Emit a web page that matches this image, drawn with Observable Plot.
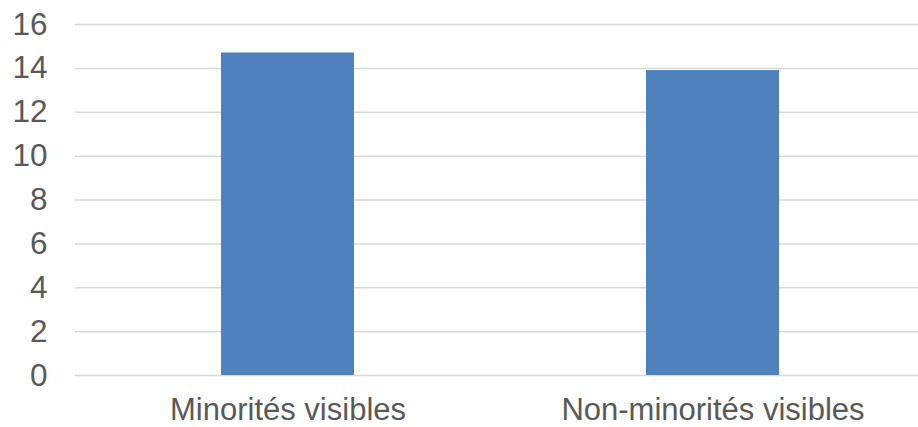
<!DOCTYPE html>
<html>
<head>
<meta charset="utf-8">
<script src="https://cdn.jsdelivr.net/npm/d3@7"></script>
<script src="https://cdn.jsdelivr.net/npm/@observablehq/plot@0.6"></script>
<style>
  html, body { margin: 0; padding: 0; background: white; }
</style>
</head>
<body>
<div id="chart"></div>
<script>
const categories = ["Minorités visibles", "Non-minorités visibles"];
const values = [14.7, 13.9];
const yTicks = [0, 2, 4, 6, 8, 10, 12, 14, 16];

const data = categories.map((c, i) => ({category: c, value: values[i]}));

const chart = Plot.plot({
  width: 918,
  height: 427,
  marginLeft: 75,
  marginRight: 0,
  marginTop: 24,
  marginBottom: 52,
  style: {
    fontFamily: "'Liberation Sans', Arial, sans-serif",
    fontSize: "31px",
    color: "#595959",
    background: "white",
    overflow: "hidden"
  },
  x: {domain: categories, range: [75, 925], paddingInner: 0.687, paddingOuter: 0.3435, label: null},
  y: {domain: [0, 16], ticks: yTicks, label: null},
  marks: [
    Plot.gridY(yTicks, {stroke: "#D9D9D9", strokeOpacity: 1, strokeWidth: 1.5}),
    Plot.barY(data, {x: "category", y: "value", fill: "#4F81BD"}),
    Plot.axisY(yTicks, {tickSize: 0, tickPadding: 28, fontSize: 31.5, fill: "#595959", label: null}),
    Plot.axisX({tickSize: 0, tickPadding: 22.5, fontSize: 31, fill: "#595959", label: null})
  ]
});
document.getElementById("chart").appendChild(chart);
</script>
</body>
</html>
